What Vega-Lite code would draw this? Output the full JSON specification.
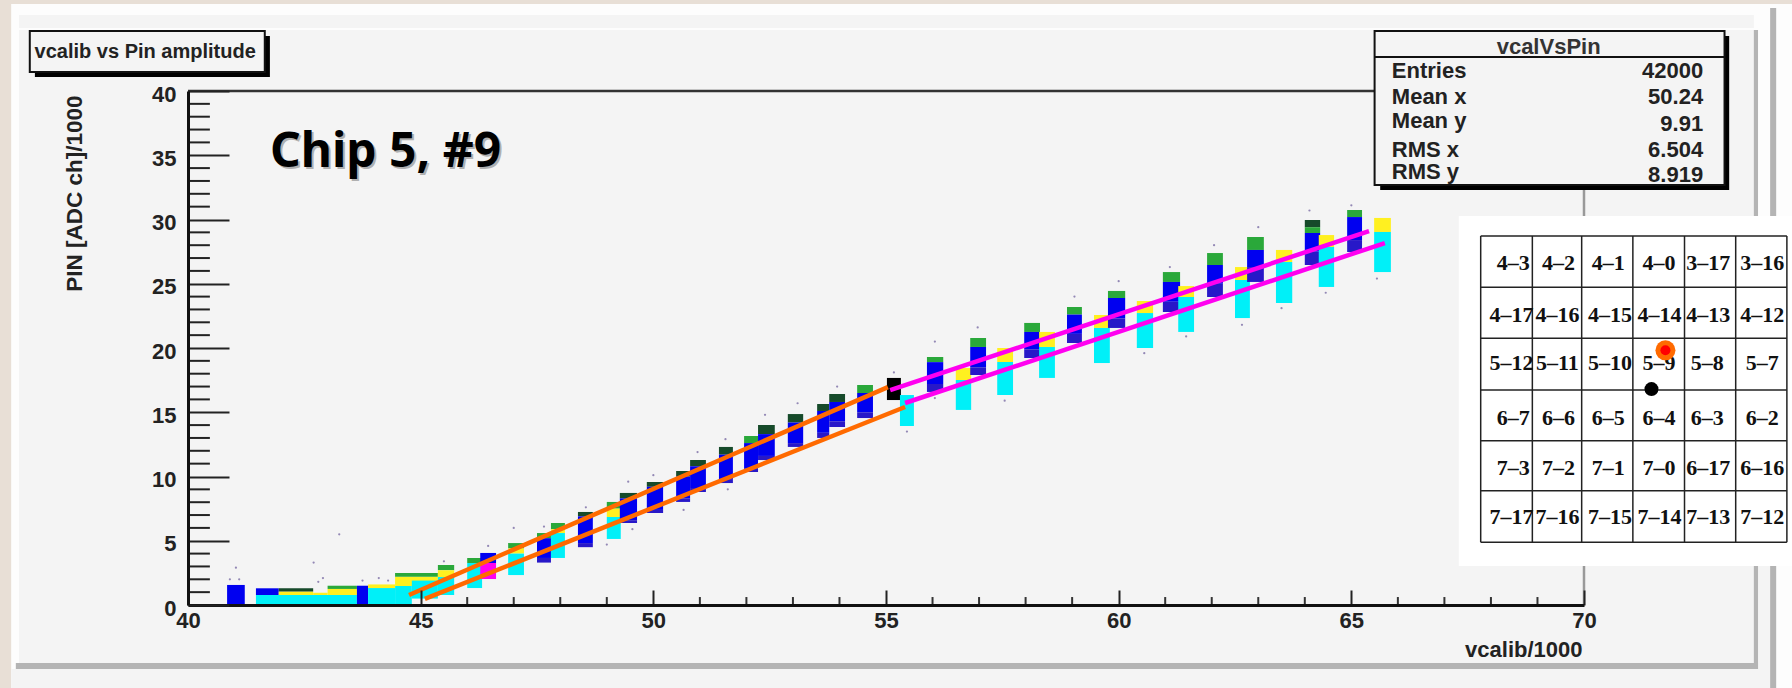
{"$schema":"https://vega.github.io/schema/vega-lite/v6.json","width":1396,"height":514,"autosize":"none","padding":{"left":188,"top":91,"right":208,"bottom":83},"background":"#e8dfd6","config":{"view":{"stroke":null},"text":{"font":"Liberation Sans"}},
"datasets":{
"frame":[{"s":"white","x":36.2,"x2":74.47,"y":46.77,"y2":-6.46},{"s":"panel","x":36.37,"x2":73.65,"y":45.91,"y2":44.9},{"s":"panel","x":36.37,"x2":73.65,"y":44.75,"y2":-4.51},{"s":"panel","x":36.2,"x2":74.0,"y":-4.98,"y2":-6.46},{"s":"panel","x":73.74,"x2":74.0,"y":20,"y2":-6.46},{"s":"bevel","x":73.65,"x2":73.74,"y":44.75,"y2":-4.98},{"s":"bevel","x":36.3,"x2":73.74,"y":-4.51,"y2":-4.98},{"s":"bevel","x":74.0,"x2":74.13,"y":46.46,"y2":-6.46}],
"border":[{"s":"frameline","x":40,"x2":70,"y":40,"y2":40},{"s":"rightline","x":70,"x2":70,"y":0,"y2":40}],
"yminor":[{"x":40,"x2":40.47,"y":1},{"x":40,"x2":40.47,"y":2},{"x":40,"x2":40.47,"y":3},{"x":40,"x2":40.47,"y":4},{"x":40,"x2":40.47,"y":6},{"x":40,"x2":40.47,"y":7},{"x":40,"x2":40.47,"y":8},{"x":40,"x2":40.47,"y":9},{"x":40,"x2":40.47,"y":11},{"x":40,"x2":40.47,"y":12},{"x":40,"x2":40.47,"y":13},{"x":40,"x2":40.47,"y":14},{"x":40,"x2":40.47,"y":16},{"x":40,"x2":40.47,"y":17},{"x":40,"x2":40.47,"y":18},{"x":40,"x2":40.47,"y":19},{"x":40,"x2":40.47,"y":21},{"x":40,"x2":40.47,"y":22},{"x":40,"x2":40.47,"y":23},{"x":40,"x2":40.47,"y":24},{"x":40,"x2":40.47,"y":26},{"x":40,"x2":40.47,"y":27},{"x":40,"x2":40.47,"y":28},{"x":40,"x2":40.47,"y":29},{"x":40,"x2":40.47,"y":31},{"x":40,"x2":40.47,"y":32},{"x":40,"x2":40.47,"y":33},{"x":40,"x2":40.47,"y":34},{"x":40,"x2":40.47,"y":36},{"x":40,"x2":40.47,"y":37},{"x":40,"x2":40.47,"y":38},{"x":40,"x2":40.47,"y":39}],
"xminor":[{"x":41,"y":0,"y2":0.62},{"x":42,"y":0,"y2":0.62},{"x":43,"y":0,"y2":0.62},{"x":44,"y":0,"y2":0.62},{"x":46,"y":0,"y2":0.62},{"x":47,"y":0,"y2":0.62},{"x":48,"y":0,"y2":0.62},{"x":49,"y":0,"y2":0.62},{"x":51,"y":0,"y2":0.62},{"x":52,"y":0,"y2":0.62},{"x":53,"y":0,"y2":0.62},{"x":54,"y":0,"y2":0.62},{"x":56,"y":0,"y2":0.62},{"x":57,"y":0,"y2":0.62},{"x":58,"y":0,"y2":0.62},{"x":59,"y":0,"y2":0.62},{"x":61,"y":0,"y2":0.62},{"x":62,"y":0,"y2":0.62},{"x":63,"y":0,"y2":0.62},{"x":64,"y":0,"y2":0.62},{"x":66,"y":0,"y2":0.62},{"x":67,"y":0,"y2":0.62},{"x":68,"y":0,"y2":0.62},{"x":69,"y":0,"y2":0.62}],
"bars":[
{"s":"blue","x":40.84,"x2":41.22,"y":0,"y2":1.56},
{"s":"cyan","x":41.46,"x2":43.63,"y":0,"y2":0.78},
{"s":"blue","x":41.46,"x2":41.95,"y":0.78,"y2":1.3},
{"s":"yellow","x":41.95,"x2":42.69,"y":0.78,"y2":1.05},
{"s":"dark","x":41.95,"x2":42.69,"y":1.05,"y2":1.3},
{"s":"yellow","x":42.69,"x2":43.0,"y":0.78,"y2":0.95},
{"s":"yellow","x":43.0,"x2":43.63,"y":0.78,"y2":1.25},
{"s":"green","x":43.0,"x2":43.63,"y":1.25,"y2":1.5},
{"s":"blue","x":43.63,"x2":43.87,"y":0,"y2":1.5},
{"s":"cyan","x":43.87,"x2":44.45,"y":0,"y2":1.32},
{"s":"cyan","x":44.45,"x2":44.81,"y":0,"y2":1.48},
{"s":"yellow","x":43.87,"x2":44.45,"y":1.32,"y2":1.6},
{"s":"yellow","x":44.45,"x2":45.37,"y":1.48,"y2":2.2},
{"s":"green","x":44.45,"x2":45.37,"y":2.2,"y2":2.49},
{"s":"cyan","x":44.81,"x2":45.37,"y":0.5,"y2":1.9},
{"s":"green","x":45.37,"x2":45.72,"y":2.7,"y2":3.11},
{"s":"yellow","x":45.37,"x2":45.72,"y":2.18,"y2":2.7},
{"s":"cyan","x":45.37,"x2":45.72,"y":0.78,"y2":2.18},
{"s":"green","x":46.0,"x2":46.32,"y":3.27,"y2":3.66},
{"s":"cyan","x":46.0,"x2":46.32,"y":1.32,"y2":3.27},
{"s":"blue","x":46.28,"x2":46.62,"y":3.27,"y2":4.05},
{"s":"magenta","x":46.28,"x2":46.62,"y":2.02,"y2":3.27},
{"s":"green","x":46.88,"x2":47.22,"y":4.4,"y2":4.82},
{"s":"yellow","x":46.88,"x2":47.22,"y":4.0,"y2":4.4},
{"s":"cyan","x":46.88,"x2":47.22,"y":2.33,"y2":4.0},
{"s":"green","x":47.5,"x2":47.8,"y":5.2,"y2":5.6},
{"s":"blue","x":47.5,"x2":47.8,"y":3.66,"y2":5.2},
{"s":"purple","x":47.5,"x2":47.8,"y":3.3,"y2":3.66},
{"s":"green","x":47.8,"x2":48.1,"y":5.9,"y2":6.38},
{"s":"yellow","x":47.8,"x2":48.1,"y":5.6,"y2":5.9},
{"s":"cyan","x":47.8,"x2":48.1,"y":3.66,"y2":5.6},
{"s":"dark","x":48.38,"x2":48.7,"y":6.9,"y2":7.24},
{"s":"blue","x":48.38,"x2":48.7,"y":4.82,"y2":6.9},
{"s":"purple","x":48.38,"x2":48.7,"y":4.5,"y2":4.82},
{"s":"green","x":49.0,"x2":49.3,"y":7.5,"y2":8.02},
{"s":"yellow","x":49.0,"x2":49.3,"y":6.85,"y2":7.5},
{"s":"cyan","x":49.0,"x2":49.3,"y":5.14,"y2":6.85},
{"s":"dark","x":49.28,"x2":49.65,"y":8.3,"y2":8.72},
{"s":"blue","x":49.28,"x2":49.65,"y":6.6,"y2":8.3},
{"s":"purple","x":49.28,"x2":49.65,"y":6.38,"y2":6.6},
{"s":"dark","x":49.86,"x2":50.21,"y":9.2,"y2":9.57},
{"s":"blue","x":49.86,"x2":50.21,"y":7.4,"y2":9.2},
{"s":"purple","x":49.86,"x2":50.21,"y":7.16,"y2":7.4},
{"s":"dark","x":50.49,"x2":50.79,"y":10,"y2":10.43},
{"s":"blue","x":50.49,"x2":50.79,"y":8.3,"y2":10},
{"s":"purple","x":50.49,"x2":50.79,"y":8.02,"y2":8.3},
{"s":"dark","x":50.79,"x2":51.13,"y":10.8,"y2":11.28},
{"s":"blue","x":50.79,"x2":51.13,"y":9.1,"y2":10.8},
{"s":"purple","x":50.79,"x2":51.13,"y":8.79,"y2":9.1},
{"s":"dark","x":51.41,"x2":51.71,"y":11.7,"y2":12.3},
{"s":"blue","x":51.41,"x2":51.71,"y":9.8,"y2":11.7},
{"s":"purple","x":51.41,"x2":51.71,"y":9.49,"y2":9.8},
{"s":"green","x":51.95,"x2":52.25,"y":12.6,"y2":13.15},
{"s":"blue","x":51.95,"x2":52.25,"y":10.6,"y2":12.6},
{"s":"purple","x":51.95,"x2":52.25,"y":10.35,"y2":10.6},
{"s":"dark","x":52.25,"x2":52.61,"y":13.3,"y2":14.01},
{"s":"blue","x":52.25,"x2":52.61,"y":11.6,"y2":13.3},
{"s":"purple","x":52.25,"x2":52.61,"y":11.28,"y2":11.6},
{"s":"dark","x":52.89,"x2":53.22,"y":14.2,"y2":14.86},
{"s":"blue","x":52.89,"x2":53.22,"y":12.6,"y2":14.2},
{"s":"purple","x":52.89,"x2":53.22,"y":12.3,"y2":12.6},
{"s":"dark","x":53.52,"x2":53.78,"y":15.1,"y2":15.64},
{"s":"blue","x":53.52,"x2":53.78,"y":13.4,"y2":15.1},
{"s":"purple","x":53.52,"x2":53.78,"y":13,"y2":13.4},
{"s":"dark","x":53.78,"x2":54.12,"y":15.8,"y2":16.42},
{"s":"blue","x":53.78,"x2":54.12,"y":14.3,"y2":15.8},
{"s":"purple","x":53.78,"x2":54.12,"y":13.85,"y2":14.3},
{"s":"green","x":54.38,"x2":54.72,"y":16.5,"y2":17.12},
{"s":"blue","x":54.38,"x2":54.72,"y":15,"y2":16.5},
{"s":"purple","x":54.38,"x2":54.72,"y":14.55,"y2":15},
{"s":"black","x":55.02,"x2":55.32,"y":15.95,"y2":17.67},
{"s":"cyan","x":55.3,"x2":55.6,"y":13.93,"y2":16.34},
{"s":"green","x":55.88,"x2":56.23,"y":18.9,"y2":19.3},
{"s":"blue","x":55.88,"x2":56.23,"y":17.2,"y2":18.9},
{"s":"purple","x":55.88,"x2":56.23,"y":16.58,"y2":17.2},
{"s":"yellow","x":56.5,"x2":56.83,"y":17.51,"y2":18.44},
{"s":"cyan","x":56.5,"x2":56.83,"y":15.18,"y2":17.51},
{"s":"green","x":56.81,"x2":57.15,"y":20.08,"y2":20.78},
{"s":"blue","x":56.81,"x2":57.15,"y":18.5,"y2":20.08},
{"s":"purple","x":56.81,"x2":57.15,"y":17.9,"y2":18.5},
{"s":"yellow","x":57.39,"x2":57.73,"y":18.91,"y2":20},
{"s":"cyan","x":57.39,"x2":57.73,"y":16.34,"y2":18.91},
{"s":"green","x":57.97,"x2":58.31,"y":21.25,"y2":21.95},
{"s":"blue","x":57.97,"x2":58.31,"y":19.9,"y2":21.25},
{"s":"purple","x":57.97,"x2":58.31,"y":19.22,"y2":19.9},
{"s":"yellow","x":58.29,"x2":58.63,"y":20.08,"y2":21.25},
{"s":"cyan","x":58.29,"x2":58.63,"y":17.67,"y2":20.08},
{"s":"green","x":58.89,"x2":59.21,"y":22.6,"y2":23.19},
{"s":"blue","x":58.89,"x2":59.21,"y":21.1,"y2":22.6},
{"s":"purple","x":58.89,"x2":59.21,"y":20.39,"y2":21.1},
{"s":"yellow","x":59.47,"x2":59.81,"y":21.56,"y2":22.57},
{"s":"cyan","x":59.47,"x2":59.81,"y":18.83,"y2":21.56},
{"s":"green","x":59.77,"x2":60.14,"y":23.89,"y2":24.44},
{"s":"blue","x":59.77,"x2":60.14,"y":22.3,"y2":23.89},
{"s":"purple","x":59.77,"x2":60.14,"y":21.56,"y2":22.3},
{"s":"yellow","x":60.39,"x2":60.74,"y":22.72,"y2":23.66},
{"s":"cyan","x":60.39,"x2":60.74,"y":20,"y2":22.72},
{"s":"green","x":60.95,"x2":61.32,"y":25.14,"y2":25.91},
{"s":"blue","x":60.95,"x2":61.32,"y":23.6,"y2":25.14},
{"s":"purple","x":60.95,"x2":61.32,"y":22.8,"y2":23.6},
{"s":"yellow","x":61.28,"x2":61.62,"y":23.97,"y2":24.82},
{"s":"cyan","x":61.28,"x2":61.62,"y":21.25,"y2":23.97},
{"s":"green","x":61.9,"x2":62.24,"y":26.46,"y2":27.39},
{"s":"blue","x":61.9,"x2":62.24,"y":25,"y2":26.46},
{"s":"purple","x":61.9,"x2":62.24,"y":23.97,"y2":25},
{"s":"yellow","x":62.5,"x2":62.82,"y":25.29,"y2":26.3},
{"s":"cyan","x":62.5,"x2":62.82,"y":22.33,"y2":25.29},
{"s":"green","x":62.76,"x2":63.12,"y":27.63,"y2":28.64},
{"s":"blue","x":62.76,"x2":63.12,"y":26.3,"y2":27.63},
{"s":"purple","x":62.76,"x2":63.12,"y":25.14,"y2":26.3},
{"s":"yellow","x":63.38,"x2":63.73,"y":26.69,"y2":27.63},
{"s":"cyan","x":63.38,"x2":63.73,"y":23.5,"y2":26.69},
{"s":"dark","x":64.0,"x2":64.33,"y":29.4,"y2":29.96},
{"s":"green","x":64.0,"x2":64.33,"y":28.95,"y2":29.4},
{"s":"blue","x":64.0,"x2":64.33,"y":27.5,"y2":28.95},
{"s":"purple","x":64.0,"x2":64.33,"y":26.46,"y2":27.5},
{"s":"yellow","x":64.3,"x2":64.63,"y":27.86,"y2":28.79},
{"s":"cyan","x":64.3,"x2":64.63,"y":24.75,"y2":27.86},
{"s":"green","x":64.91,"x2":65.23,"y":30.19,"y2":30.74},
{"s":"blue","x":64.91,"x2":65.23,"y":28.4,"y2":30.19},
{"s":"purple","x":64.91,"x2":65.23,"y":27.47,"y2":28.4},
{"s":"yellow","x":65.49,"x2":65.85,"y":29.03,"y2":30.12},
{"s":"cyan","x":65.49,"x2":65.85,"y":25.91,"y2":29.03}],
"specks":[{"x":41.03,"y":2.9},{"x":40.9,"y":2.0},{"x":41.1,"y":2.0},{"x":42.7,"y":3.3},{"x":43.25,"y":5.5},{"x":42.9,"y":2.1},{"x":42.8,"y":1.8},{"x":43.75,"y":1.9},{"x":44.1,"y":2.1},{"x":44.3,"y":1.9},{"x":45.5,"y":3.4},{"x":46.45,"y":4.6},{"x":47.0,"y":6.0},{"x":47.65,"y":6.1},{"x":48.55,"y":7.6},{"x":49.46,"y":9.6},{"x":50.0,"y":10.1},{"x":50.95,"y":11.9},{"x":51.55,"y":12.9},{"x":52.4,"y":14.8},{"x":53.1,"y":15.7},{"x":53.95,"y":17.0},{"x":55.17,"y":18.1},{"x":55.45,"y":13.5},{"x":56.05,"y":20.5},{"x":56.05,"y":16.1},{"x":56.97,"y":21.6},{"x":57.55,"y":15.9},{"x":59.05,"y":24},{"x":60.0,"y":25.2},{"x":60.55,"y":19.6},{"x":61.1,"y":26.3},{"x":61.45,"y":20.9},{"x":62.05,"y":28},{"x":62.65,"y":21.8},{"x":63.0,"y":29.4},{"x":63.5,"y":23.1},{"x":64.1,"y":30.7},{"x":64.45,"y":24.3},{"x":65.0,"y":31.1},{"x":65.55,"y":25.4},{"x":49.0,"y":4.7},{"x":49.55,"y":5.9},{"x":50.65,"y":7.4},{"x":51.6,"y":9.0}],
"fits":[{"s":"orange","f":"o1","x":44.75,"y":0.78},{"s":"orange","f":"o1","x":55.04,"y":16.96},{"s":"orange","f":"o2","x":45.09,"y":0.47},{"s":"orange","f":"o2","x":55.41,"y":15.41},{"s":"magenta","f":"m1","x":55.09,"y":16.73},{"s":"magenta","f":"m1","x":65.38,"y":29.1},{"s":"magenta","f":"m2","x":55.41,"y":15.72},{"s":"magenta","f":"m2","x":65.72,"y":28.17}],
"shadows":[{"x":36.71,"x2":41.76,"y":44.28,"y2":41.09},{"x":65.62,"x2":73.12,"y":44.28,"y2":32.3}],
"boxes":[{"x":36.6,"x2":41.65,"y":44.67,"y2":41.48},{"x":65.5,"x2":73.02,"y":44.67,"y2":32.68}],
"boxline":[{"x":65.5,"x2":73.02,"y":42.65,"y2":42.65}],
"inset":[{"x":67.31,"x2":74.47,"y":30.27,"y2":3.04}],
"gridv":[{"x":67.78,"y":28.72,"y2":4.88},{"x":68.89,"y":28.72,"y2":4.88},{"x":69.95,"y":28.72,"y2":4.88},{"x":71.05,"y":28.72,"y2":4.88},{"x":72.16,"y":28.72,"y2":4.88},{"x":73.26,"y":28.72,"y2":4.88},{"x":74.36,"y":28.72,"y2":4.88}],
"gridh":[{"y":28.72,"x":67.78,"x2":74.36},{"y":24.72,"x":67.78,"x2":74.36},{"y":20.75,"x":67.78,"x2":74.36},{"y":16.73,"x":67.78,"x2":74.36},{"y":12.79,"x":67.78,"x2":74.36},{"y":8.89,"x":67.78,"x2":74.36},{"y":4.88,"x":67.78,"x2":74.36}],
"cells":[
{"t":"4–3","x":68.48,"y":26.61},{"t":"4–2","x":69.45,"y":26.61},{"t":"4–1","x":70.52,"y":26.61},{"t":"4–0","x":71.61,"y":26.61},{"t":"3–17","x":72.67,"y":26.61},{"t":"3–16","x":73.83,"y":26.61},
{"t":"4–17","x":68.44,"y":22.57},{"t":"4–16","x":69.43,"y":22.57},{"t":"4–15","x":70.56,"y":22.57},{"t":"4–14","x":71.62,"y":22.57},{"t":"4–13","x":72.67,"y":22.57},{"t":"4–12","x":73.83,"y":22.57},
{"t":"5–12","x":68.44,"y":18.83},{"t":"5–11","x":69.43,"y":18.83},{"t":"5–10","x":70.56,"y":18.83},{"t":"5–9","x":71.61,"y":18.83},{"t":"5–8","x":72.65,"y":18.83},{"t":"5–7","x":73.83,"y":18.83},
{"t":"6–7","x":68.48,"y":14.55},{"t":"6–6","x":69.45,"y":14.55},{"t":"6–5","x":70.52,"y":14.55},{"t":"6–4","x":71.61,"y":14.55},{"t":"6–3","x":72.65,"y":14.55},{"t":"6–2","x":73.83,"y":14.55},
{"t":"7–3","x":68.48,"y":10.66},{"t":"7–2","x":69.45,"y":10.66},{"t":"7–1","x":70.52,"y":10.66},{"t":"7–0","x":71.61,"y":10.66},{"t":"6–17","x":72.67,"y":10.66},{"t":"6–16","x":73.83,"y":10.66},
{"t":"7–17","x":68.44,"y":6.85},{"t":"7–16","x":69.43,"y":6.85},{"t":"7–15","x":70.56,"y":6.85},{"t":"7–14","x":71.62,"y":6.85},{"t":"7–13","x":72.67,"y":6.85},{"t":"7–12","x":73.83,"y":6.85}],
"statleft":[{"t":"Entries","x":65.87,"y":41.58},{"t":"Mean x","x":65.87,"y":39.56},{"t":"Mean y","x":65.87,"y":37.69},{"t":"RMS x","x":65.87,"y":35.41},{"t":"RMS y","x":65.87,"y":33.72}],
"statright":[{"t":"42000","x":72.56,"y":41.58},{"t":"50.24","x":72.56,"y":39.56},{"t":"9.91","x":72.56,"y":37.43},{"t":"6.504","x":72.56,"y":35.41},{"t":"8.919","x":72.56,"y":33.46}],
"statname":[{"t":"vcalVsPin","x":69.24,"y":43.45}],
"plottitle":[{"t":"vcalib vs Pin amplitude","x":39.08,"y":43.04}],
"chip":[{"t":"Chip 5, #9","x":41.76,"y":35.2}],
"outer":[{"x":71.75,"y":19.82}],"inner":[{"x":71.75,"y":19.82}],"pin":[{"x":71.45,"y":16.8}]
},
"encoding":{
"x":{"field":"x","type":"quantitative","scale":{"domain":[40,70],"nice":false,"zero":false},"axis":{"title":"vcalib/1000","values":[40,45,50,55,60,65,70],"format":"d","grid":false,"zindex":1,"domainColor":"#111","domainWidth":3,"tickColor":"#222","tickWidth":2,"tickSize":-15,"labelPadding":20,"labelFont":"Liberation Sans","labelFontWeight":"bold","labelFontSize":22,"labelColor":"#222","labelFlush":false,"labelOverlap":false,"titleFont":"Liberation Sans","titleFontWeight":"bold","titleFontSize":22,"titleColor":"#222","titleAlign":"right","titleAnchor":null,"titleBaseline":"alphabetic","titleX":1394,"titleY":51}},
"y":{"field":"y","type":"quantitative","scale":{"domain":[0,40],"nice":false,"zero":false},"axis":{"title":"PIN [ADC ch]/1000","values":[0,5,10,15,20,25,30,35,40],"format":"d","grid":false,"zindex":1,"domainColor":"#111","domainWidth":3,"tickColor":"#222","tickWidth":2,"tickSize":-41,"labelPadding":53,"labelOffset":3,"labelFont":"Liberation Sans","labelFontWeight":"bold","labelFontSize":22,"labelColor":"#222","labelFlush":false,"labelOverlap":false,"titleFont":"Liberation Sans","titleFontWeight":"bold","titleFontSize":22.5,"titleColor":"#222","titleAngle":-90,"titleAlign":"right","titleAnchor":null,"titleBaseline":"alphabetic","titleX":-107,"titleY":4}}
},
"layer":[
{"data":{"name":"frame"},"mark":{"type":"rect"},"encoding":{"x2":{"field":"x2"},"y2":{"field":"y2"},"color":{"field":"s","type":"nominal","legend":null,"scale":{"domain":["white","panel","bevel","frameline","rightline","blue","cyan","yellow","green","dark","purple","magenta","black","orange"],"range":["#fdfdfd","#f4f4f4","#b4b4b4","#333333","#999999","#0000f0","#00f0f8","#fff020","#2aa83a","#164a2a","#2818c8","#ff00f0","#000000","#ff6a00"]}}}},
{"data":{"name":"border"},"mark":{"type":"rule","strokeWidth":2.5},"encoding":{"x2":{"field":"x2"},"y2":{"field":"y2"},"color":{"field":"s","type":"nominal","legend":null}}},
{"data":{"name":"yminor"},"mark":{"type":"rule","color":"#222","strokeWidth":2},"encoding":{"x2":{"field":"x2"}}},
{"data":{"name":"xminor"},"mark":{"type":"rule","color":"#333","strokeWidth":2},"encoding":{"y2":{"field":"y2"}}},
{"data":{"name":"bars"},"mark":{"type":"rect"},"encoding":{"x2":{"field":"x2"},"y2":{"field":"y2"},"color":{"field":"s","type":"nominal","legend":null}}},
{"data":{"name":"specks"},"mark":{"type":"point","filled":true,"shape":"circle","size":5,"color":"#6a5a9a","opacity":0.7}},
{"data":{"name":"fits"},"mark":{"type":"line","strokeWidth":4.5,"strokeCap":"butt"},"encoding":{"detail":{"field":"f"},"color":{"field":"s","type":"nominal","legend":null}}},
{"data":{"name":"shadows"},"mark":{"type":"rect","color":"#000"},"encoding":{"x2":{"field":"x2"},"y2":{"field":"y2"}}},
{"data":{"name":"boxes"},"mark":{"type":"rect","fill":"#f4f4f4","stroke":"#111","strokeWidth":2},"encoding":{"x2":{"field":"x2"},"y2":{"field":"y2"}}},
{"data":{"name":"boxline"},"mark":{"type":"rule","color":"#111","strokeWidth":2},"encoding":{"x2":{"field":"x2"}}},
{"data":{"name":"plottitle"},"mark":{"type":"text","font":"Liberation Sans","fontWeight":"bold","fontSize":20,"color":"#222","align":"center","baseline":"middle"},"encoding":{"text":{"field":"t"}}},
{"data":{"name":"statname"},"mark":{"type":"text","font":"Liberation Sans","fontSize":22,"fontWeight":"bold","color":"#333","align":"center","baseline":"middle"},"encoding":{"text":{"field":"t"}}},
{"data":{"name":"statleft"},"mark":{"type":"text","font":"Liberation Sans","fontSize":22,"fontWeight":"bold","color":"#222","align":"left","baseline":"middle"},"encoding":{"text":{"field":"t"}}},
{"data":{"name":"statright"},"mark":{"type":"text","font":"Liberation Sans","fontSize":22,"fontWeight":"bold","color":"#222","align":"right","baseline":"middle"},"encoding":{"text":{"field":"t"}}},
{"data":{"name":"chip"},"mark":{"type":"text","font":"Noto Sans","fontSize":48,"fontWeight":"bold","color":"#b0b0b0","align":"left","baseline":"middle","dx":2,"dy":2},"encoding":{"text":{"field":"t"}}},
{"data":{"name":"chip"},"mark":{"type":"text","font":"Noto Sans","fontSize":48,"fontWeight":"bold","color":"#000","align":"left","baseline":"middle"},"encoding":{"text":{"field":"t"}}},
{"data":{"name":"inset"},"mark":{"type":"rect","color":"#ffffff"},"encoding":{"x2":{"field":"x2"},"y2":{"field":"y2"}}},
{"data":{"name":"gridv"},"mark":{"type":"rule","color":"#222","strokeWidth":1.5},"encoding":{"y2":{"field":"y2"}}},
{"data":{"name":"gridh"},"mark":{"type":"rule","color":"#222","strokeWidth":1.5},"encoding":{"x2":{"field":"x2"}}},
{"data":{"name":"cells"},"mark":{"type":"text","font":"Liberation Serif","fontWeight":"bold","fontSize":22,"color":"#111","align":"center","baseline":"middle"},"encoding":{"text":{"field":"t"}}},
{"data":{"name":"outer"},"mark":{"type":"point","filled":true,"shape":"circle","size":400,"color":"#ff6a00","opacity":1}},
{"data":{"name":"inner"},"mark":{"type":"point","filled":true,"shape":"circle","size":100,"color":"#ff0000","opacity":1}},
{"data":{"name":"pin"},"mark":{"type":"point","filled":true,"shape":"circle","size":196,"color":"#000","opacity":1}}
]}
